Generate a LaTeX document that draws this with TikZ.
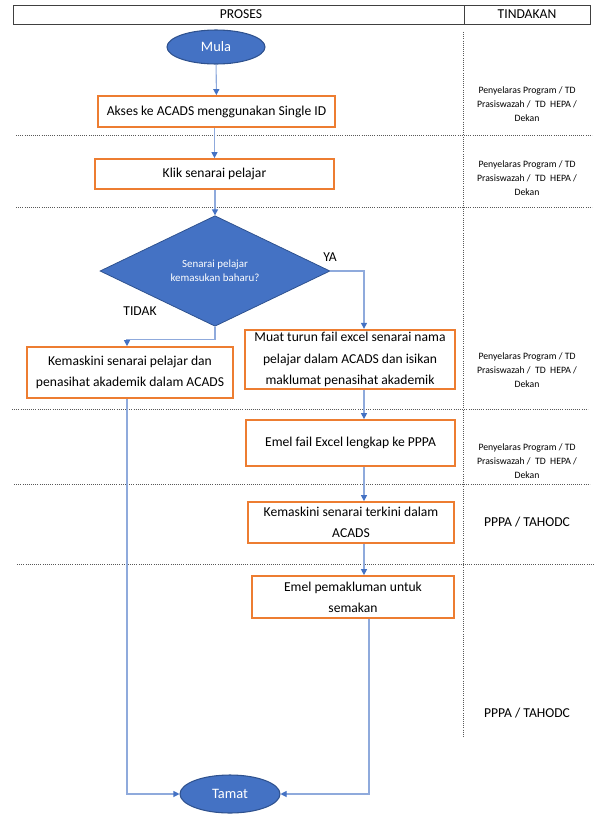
\documentclass[tikz,border=0pt]{standalone}
\usepackage{fontspec}
\setmainfont{Carlito}
\usetikzlibrary{shapes.geometric,arrows.meta,calc}

\definecolor{flowblue}{HTML}{4472C4}
\definecolor{flowedge}{HTML}{2F528F}
\definecolor{linkblue}{HTML}{8FAADC}
\definecolor{boxorange}{HTML}{ED7D31}

\begin{document}
\begin{tikzpicture}[
        x=0.75pt, y=-0.75pt,
        every node/.style={font=\fontsize{10.2}{16}\selectfont},
        terminal/.style={ellipse, draw=flowedge, fill=flowblue, line width=0.8pt,
            text=white, inner sep=0pt, font=\fontsize{10.8}{13}\selectfont},
        procbox/.style={draw=boxorange, line width=1.3pt, fill=white, align=center,
            inner sep=2pt},
        decision/.style={diamond, draw=flowedge, fill=flowblue, line width=0.6pt,
            text=white, align=center, inner sep=0pt,
            font=\fontsize{8.2}{10.5}\selectfont},
        link/.style={draw=linkblue, line width=0.8pt,
            -{Triangle[length=4.5pt, width=4.5pt, color=flowblue, fill=flowblue]}},
        sepline/.style={densely dotted, draw=black!65, line width=0.6pt},
        role/.style={align=center, font=\fontsize{7.3}{10.5}\selectfont}
    ]

    \useasboundingbox (0,0) rectangle (602,825);

    % =====================================================
    % Header
    % =====================================================
    \draw[line width=0.6pt, black!75] (13,5) rectangle (590,24);
    \draw[line width=0.6pt, black!75] (464,5) -- (464,24);
    \node (hproses) at (241,14.5) {PROSES};
    \node (htindakan) at (527,14.5) {TINDAKAN};

    % =====================================================
    % Row separators
    % =====================================================
    \draw[sepline] (463.5,32) -- (463.5,737);
    \draw[sepline] (16,135) -- (592,135);
    \draw[sepline] (16,207) -- (592,207);
    \draw[sepline] (12,409) -- (588,409);
    \draw[sepline] (14,484) -- (590,484);
    \draw[sepline] (17,564) -- (594,564);

    % =====================================================
    % Process
    % =====================================================
    \node[terminal, minimum width=73.5pt, minimum height=25.5pt] (mula) at (216,47) {Mula};

    \node[procbox, minimum width=177.75pt, minimum height=23.25pt] (akses) at (216.5,111.5)
    {Akses ke ACADS menggunakan Single ID};

    \node[procbox, minimum width=179.25pt, minimum height=22.5pt] (klik) at (214.5,174)
    {Klik senarai pelajar};

    \node[decision, minimum width=172.5pt, minimum height=58.5pt] (baharu) at (215,271)
    {Senarai pelajar\\kemasukan baharu?};

    \node[procbox, minimum width=154.5pt, minimum height=38.25pt] (kemaskini) at (130,372.5)
    {Kemaskini senarai pelajar dan\\penasihat akademik dalam ACADS};

    \node[procbox, minimum width=157.5pt, minimum height=44.25pt] (muat) at (350,359.5)
    {Muat turun fail excel senarai nama\\pelajar dalam ACADS dan isikan\\maklumat penasihat akademik};

    \node[procbox, minimum width=156.75pt, minimum height=34.5pt] (emelfail) at (350.5,443)
    {Emel fail Excel lengkap ke PPPA};

    \node[procbox, minimum width=154.5pt, minimum height=30.75pt] (terkini) at (351,522.5)
    {Kemaskini senarai terkini dalam\\ACADS};

    \node[procbox, minimum width=151.5pt, minimum height=31.5pt] (semakan) at (353,597)
    {Emel pemakluman untuk\\semakan};

    \node[terminal, minimum width=75pt, minimum height=28.5pt] (tamat) at (230,794) {Tamat};

    % Branch labels
    \node (ya) at (330,257) {YA};
    \node (tidak) at (140,311) {TIDAK};

    % Column for right-hand arrows
    \coordinate (colR) at (364,0);
    \coordinate (colL) at (127,0);

    % =====================================================
    % Connectors
    % =====================================================
    \draw[link] (mula) -- (akses);
    \draw[link] (akses.south -| klik.north) -- (klik);
    \draw[link] (klik.south -| baharu.north) -- (baharu);
    \draw[link] (baharu.east) -| (muat.north -| colR);
    \draw[link] (baharu.south) -- ++(0,13) -| (kemaskini.north -| colL);
    \draw[link] (muat.south -| colR) -- (emelfail.north -| colR);
    \draw[link] (emelfail.south -| colR) -- (terkini.north -| colR);
    \draw[link] (terkini.south -| colR) -- (semakan.north -| colR);
    \draw[link] ([xshift=3.75pt]semakan.south -| colR) |- (tamat.east);
    \draw[link] (kemaskini.south -| colL) |- (tamat.west);

    % =====================================================
    % Tindakan
    % =====================================================
    \node[role] (role1) at (527,104) {Penyelaras Program / TD\\Prasiswazah /\ \ TD\ \ HEPA /\\Dekan};
    \node[role] (role2) at (527,178) {Penyelaras Program / TD\\Prasiswazah /\ \ TD\ \ HEPA /\\Dekan};
    \node[role] (role3) at (527,370) {Penyelaras Program / TD\\Prasiswazah /\ \ TD\ \ HEPA /\\Dekan};
    \node[role] (role4) at (527,461) {Penyelaras Program / TD\\Prasiswazah /\ \ TD\ \ HEPA /\\Dekan};
    \node (role5) at (527,522) {PPPA / TAHODC};
    \node (role6) at (527,713) {PPPA / TAHODC};

\end{tikzpicture}
\end{document}
